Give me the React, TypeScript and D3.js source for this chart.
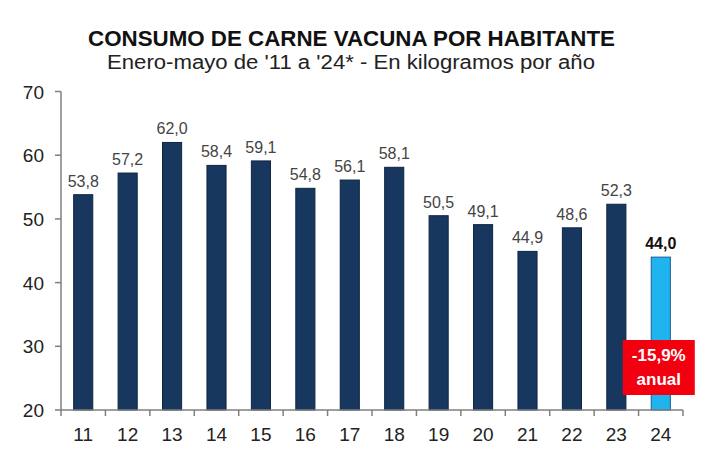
import React from "react";
import * as d3 from "d3";

const years = ["11", "12", "13", "14", "15", "16", "17", "18", "19", "20", "21", "22", "23", "24"];
const values = [53.8, 57.2, 62.0, 58.4, 59.1, 54.8, 56.1, 58.1, 50.5, 49.1, 44.9, 48.6, 52.3, 44.0];
const yTicks = [20, 30, 40, 50, 60, 70];
const title = "CONSUMO DE CARNE VACUNA POR HABITANTE";
const subtitle = "Enero-mayo de '11 a '24* - En kilogramos por año";
const badge = ["-15,9%", "anual"];

export default function App() {
  const W = 722, H = 460;
  const left = 61, right = 683, top = 91.5, bottom = 410;
  const x = d3.scaleBand<string>().domain(years).range([left, right]).paddingInner(0.57).paddingOuter(0.285);
  const xb = d3.scaleBand<string>().domain(years).range([left, right]);
  const y = d3.scaleLinear().domain([20, 70]).range([bottom, top]);
  const font = "'Liberation Sans', Arial, sans-serif";
  const fmt = (v: number) => v.toFixed(1).replace(".", ",");
  const last = years[years.length - 1];
  const bx = xb(last)! + xb.bandwidth() / 2;
  return (
    <svg width={W} height={H} style={{ position: "absolute", left: 0, top: 0, background: "#fff" }} fontFamily={font}>
      <rect width={W} height={H} fill="#fff" />
      <text x={351.5} y={46} textAnchor="middle" fontSize={21.5} fontWeight="bold" fill="#111"
        textLength={527} lengthAdjust="spacingAndGlyphs">{title}</text>
      <text x={351} y={68.5} textAnchor="middle" fontSize={19.5} fill="#222"
        textLength={488} lengthAdjust="spacingAndGlyphs">{subtitle}</text>
      {/* y axis */}
      <line x1={left} x2={left} y1={top} y2={bottom} stroke="#7f7f7f" strokeWidth={1.5} />
      {yTicks.map((t) => (
        <g key={t}>
          <line x1={left - 6} x2={left} y1={y(t)} y2={y(t)} stroke="#7f7f7f" strokeWidth={1.5} />
          <text x={44} y={y(t) + 7} textAnchor="end" fontSize={19} fill="#222">{t}</text>
        </g>
      ))}
      {/* bars */}
      {years.map((yr, i) => {
        const isLast = i === years.length - 1;
        return (
          <g key={yr}>
            <rect x={x(yr)!} y={y(values[i])} width={x.bandwidth()} height={bottom - y(values[i])}
              fill={isLast ? "#1fb4ef" : "#17375e"} stroke={isLast ? "#1a5c99" : "#0e2440"} strokeWidth={1} />
            <text x={x(yr)! + x.bandwidth() / 2} y={y(values[i]) - 8} textAnchor="middle" fontSize={16}
              fontWeight={isLast ? "bold" : "normal"} fill={isLast ? "#111" : "#444"}>{fmt(values[i])}</text>
          </g>
        );
      })}
      {/* x axis */}
      <line x1={left} x2={right} y1={bottom} y2={bottom} stroke="#7f7f7f" strokeWidth={1.5} />
      {years.map((yr) => (
        <g key={"t" + yr}>
          <line x1={xb(yr)!} x2={xb(yr)!} y1={bottom} y2={bottom + 6} stroke="#7f7f7f" strokeWidth={1.5} />
          <text x={xb(yr)! + xb.bandwidth() / 2} y={441} textAnchor="middle" fontSize={19} fill="#222">{yr}</text>
        </g>
      ))}
      <line x1={right} x2={right} y1={bottom} y2={bottom + 6} stroke="#7f7f7f" strokeWidth={1.5} />
      {/* badge */}
      <rect x={bx - 38} y={340} width={72} height={55} fill="#f2000f" />
      <text x={bx - 2} y={361} textAnchor="middle" fontSize={17} fontWeight="bold" fill="#fff">{badge[0]}</text>
      <text x={bx - 2} y={385} textAnchor="middle" fontSize={17} fontWeight="bold" fill="#fff">{badge[1]}</text>
    </svg>
  );
}
